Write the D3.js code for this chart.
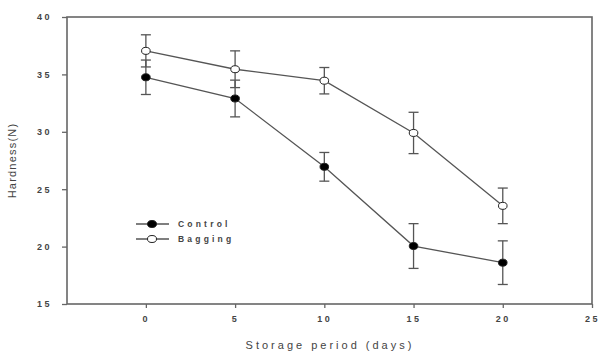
<!DOCTYPE html>
<html>
<head>
<meta charset="utf-8">
<script src="https://cdn.jsdelivr.net/npm/d3@7"></script>
<style>
body { margin: 0; background: #fff; }
text { font-family: "Liberation Sans", Arial, sans-serif; fill: #444; }
</style>
</head>
<body>
<div id="chart"></div>
<script>
(function(){

var width = 604,
	height = 351,
	margin = {top: 17, right: 12, bottom: 47, left: 67};

// data
var days = [0, 5, 10, 15, 20];
var control = [34.75, 32.9, 26.95, 20.05, 18.6];
var control_err = [1.5, 1.6, 1.25, 1.95, 1.9];
var bagging = [37.05, 35.45, 34.45, 29.9, 23.55];
var bagging_err = [1.4, 1.6, 1.15, 1.8, 1.55];

var xticks = [0, 5, 10, 15, 20, 25];
var yticks = [15, 20, 25, 30, 35, 40];
var series_names = ["Control", "Bagging"];
var series_fill = ["#000", "#fff"];

var svg = d3.select("#chart").append("svg")
		.attr("width", width)
		.attr("height", height);

var X = d3.scaleLinear().domain([-4.42, 25]).range([margin.left, width - margin.right]);
var Y = d3.scaleLinear().domain([15, 40]).range([height - margin.bottom, margin.top]);

var axiscol = "#666";

// frame
svg.append("rect")
	.attr("x", X.range()[0]).attr("y", Y.range()[1])
	.attr("width", X.range()[1] - X.range()[0])
	.attr("height", Y.range()[0] - Y.range()[1])
	.style("fill", "none").style("stroke", axiscol).style("stroke-width", 1.6);

// y axis
var yax = svg.append("g")
	.attr("transform", "translate(" + X.range()[0] + ",0)")
	.call(d3.axisLeft(Y).tickValues(yticks).tickSize(5).tickPadding(10).tickFormat(d3.format("d")));
yax.select(".domain").remove();
yax.selectAll("line").style("stroke", axiscol).style("stroke-width", 1.3);
yax.selectAll("text").style("font-size", "9px").style("letter-spacing", "2.5px").style("fill", "#444").style("font-weight", "bold");

// x axis
var xax = svg.append("g")
	.attr("transform", "translate(0," + Y.range()[0] + ")")
	.call(d3.axisBottom(X).tickValues(xticks).tickSize(4).tickPadding(8).tickFormat(d3.format("d")));
xax.select(".domain").remove();
xax.selectAll("line").style("stroke", axiscol).style("stroke-width", 1.3);
xax.selectAll("text").style("font-size", "9px").style("letter-spacing", "2.5px").style("fill", "#444").style("font-weight", "bold");

svg.append("text")
	.attr("x", 330)
	.attr("y", height - 2)
	.attr("text-anchor", "middle")
	.style("font-size", "11px").style("letter-spacing", "3px")
	.text("Storage period (days)");

svg.append("text")
	.attr("transform", "translate(16," + ((Y.range()[0] + Y.range()[1]) / 2) + ") rotate(-90)")
	.attr("text-anchor", "middle")
	.style("font-size", "11px").style("letter-spacing", "1.2px")
	.text("Hardness(N)");

var line = d3.line()
	.x(function(d){ return X(d.x); })
	.y(function(d){ return Y(d.y); });

var series = [
	{name: series_names[0], fill: series_fill[0], pts: days.map(function(d, i){ return {x: d, y: control[i], e: control_err[i]}; })},
	{name: series_names[1], fill: series_fill[1], pts: days.map(function(d, i){ return {x: d, y: bagging[i], e: bagging_err[i]}; })}
];

var linecol = "#555";

series.forEach(function(s){
	var g = svg.append("g");
	g.append("path").datum(s.pts).attr("d", line)
		.style("fill", "none").style("stroke", linecol).style("stroke-width", 1.3);
	s.pts.forEach(function(p){
		var cx = X(p.x), y0 = Y(p.y - p.e), y1 = Y(p.y + p.e);
		g.append("line").attr("x1", cx).attr("x2", cx).attr("y1", y0).attr("y2", y1)
			.style("stroke", linecol).style("stroke-width", 1.3);
		[y0, y1].forEach(function(yy){
			g.append("line").attr("x1", cx - 5).attr("x2", cx + 5).attr("y1", yy).attr("y2", yy)
				.style("stroke", linecol).style("stroke-width", 1.3);
		});
	});
	g.selectAll("ellipse").data(s.pts).enter().append("ellipse")
		.attr("cx", function(d){ return X(d.x); })
		.attr("cy", function(d){ return Y(d.y); })
		.attr("rx", 4.3).attr("ry", 3.5)
		.style("fill", s.fill).style("stroke", "#222").style("stroke-width", 1);
});

// legend
var leg = svg.selectAll(".leg").data(series).enter().append("g")
	.attr("transform", function(d, i){ return "translate(136," + (224 + i * 15) + ")"; });
leg.append("line").attr("x1", 0).attr("x2", 33)
	.style("stroke", linecol).style("stroke-width", 1.3);
leg.append("ellipse").attr("cx", 16).attr("rx", 4.5).attr("ry", 3.5)
	.style("fill", function(d){ return d.fill; }).style("stroke", "#222");
leg.append("text").attr("x", 42).attr("dy", "0.35em")
	.style("font-size", "8.5px").style("letter-spacing", "3.2px").style("font-weight", "bold")
	.text(function(d){ return d.name; });

})();
</script>
</body>
</html>
